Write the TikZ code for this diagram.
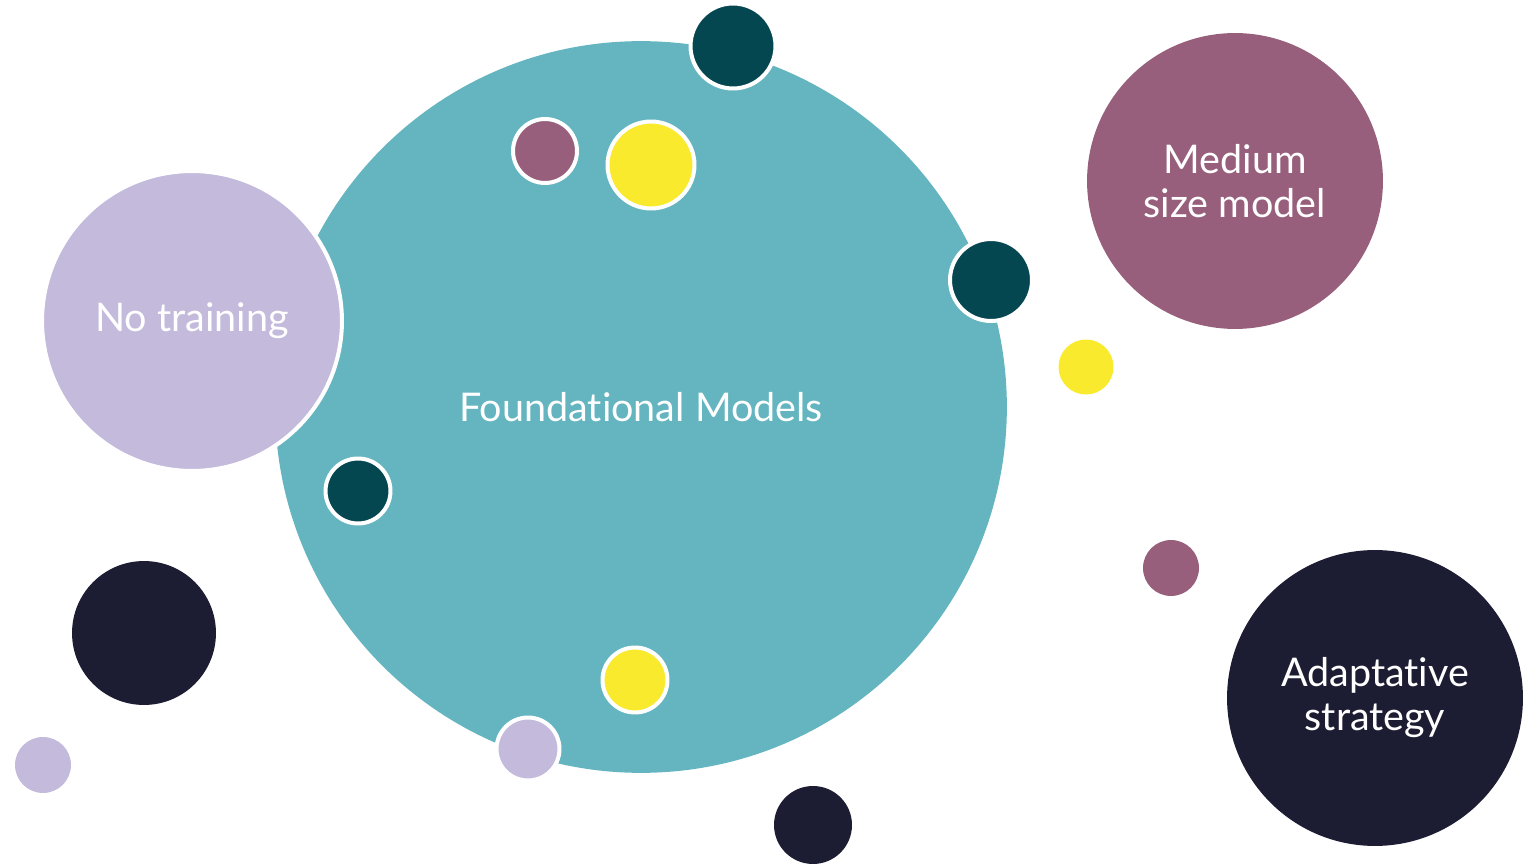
\documentclass[tikz,border=0pt]{standalone}
\usepackage{fontspec}
\setmainfont{Lato}[Ligatures=NoCommon]
\definecolor{fmteal}{HTML}{64B5C0}
\definecolor{lilac}{HTML}{C3BADC}
\definecolor{mauve}{HTML}{985F7C}
\definecolor{navy}{HTML}{1C1C33}
\definecolor{deepteal}{HTML}{054751}
\definecolor{lemon}{HTML}{F9EA2D}
\tikzset{
	disc/.style={circle, inner sep=0pt, minimum size=#1*0.04cm},
	rim/.style={draw=white, line width=0.08cm},
	txt/.style={text=white, align=center, font=\fontsize{22.5}{25}\selectfont}
}
\begin{document}
\begin{tikzpicture}[x=0.02cm, y=-0.02cm]
		\useasboundingbox (0, 0) rectangle (1535, 864);

		\node[disc=366, fill=fmteal, txt] (found) at (641, 407) {Foundational Models};
		\node[disc=150, fill=lilac, rim, txt] (notrain) at (192, 321) {No training};
		\node[disc=148, fill=mauve, txt] (medium) at (1235, 181) {Medium\\size model};
		\node[disc=148, fill=navy, txt] (adapt) at (1375, 698) {Adaptative\\strategy};

		\node[disc=42.5, fill=deepteal, rim] (dot1) at (733, 46) {};
		\node[disc=32, fill=mauve, rim] (dot2) at (545, 151) {};
		\node[disc=43.5, fill=lemon, rim] (dot3) at (651, 165) {};
		\node[disc=41, fill=deepteal, rim] (dot4) at (991, 280) {};
		\node[disc=27.5, fill=lemon] (dot5) at (1086, 367) {};
		\node[disc=32.5, fill=deepteal, rim] (dot6) at (358, 491) {};
		\node[disc=28, fill=mauve] (dot7) at (1171, 568) {};
		\node[disc=72, fill=navy] (dot8) at (144, 633) {};
		\node[disc=32.5, fill=lemon, rim] (dot9) at (635, 680) {};
		\node[disc=31.5, fill=lilac, rim] (dot10) at (528, 749) {};
		\node[disc=28, fill=lilac] (dot11) at (43, 765) {};
		\node[disc=39, fill=navy] (dot12) at (813, 825) {};
	\end{tikzpicture}
\end{document}
